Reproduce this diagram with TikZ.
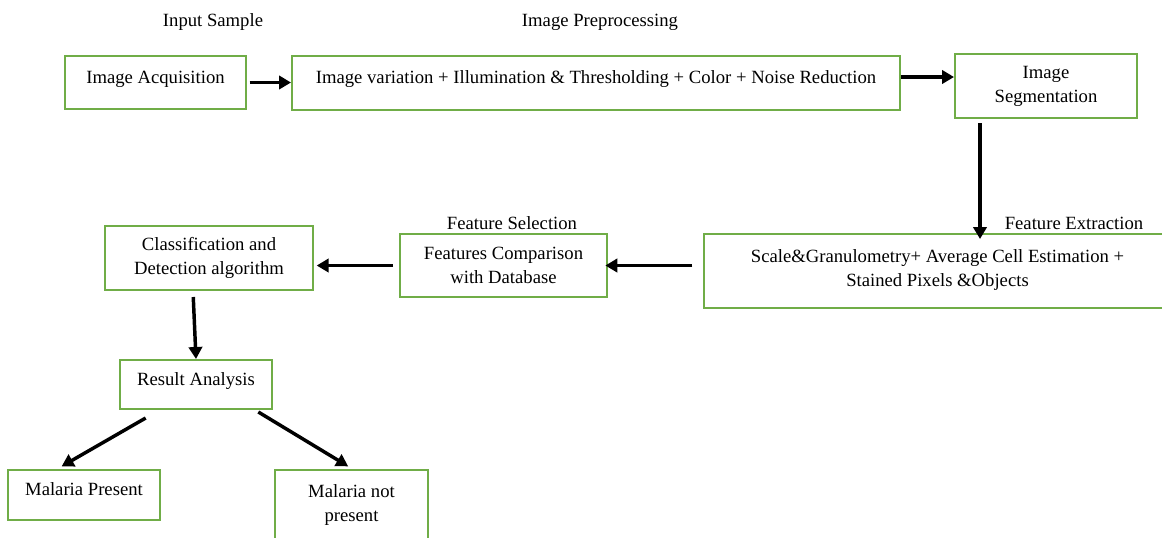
\documentclass[tikz,border=0pt]{standalone}
\usepackage{fontspec}
\setmainfont{Liberation Serif}
\usepackage{tikz}
\usetikzlibrary{arrows.meta}
\definecolor{boxgreen}{HTML}{70AD47}

\begin{document}
\begin{tikzpicture}[
  x=0.75pt, y=-0.75pt,
  font=\fontsize{14}{18}\selectfont,
  box/.style={draw=boxgreen, line width=1.5pt, align=center, inner sep=0pt},
  onebox/.style={box, text height=9.5pt, text depth=8.5pt},
  arr/.style={-{Triangle[length=9pt,width=10pt]}, line width=2.6pt, draw=black}
]
\useasboundingbox (0,0) rectangle (1162,537);
\clip (0,0) rectangle (1162,537);
% stage titles
\node (tin)  at (213,22)  {Input Sample};
\node (tpre) at (600,22)  {Image Preprocessing};
\node (tsel) at (512,223) {Feature Selection};
\node (text) at (1074,223) {Feature Extraction};
% boxes
\node[onebox, minimum width=135.75pt, minimum height=39.75pt] (acq) at (155.5,82.5) {Image Acquisition};
\node[onebox, minimum width=456pt, minimum height=40.5pt] (pre) at (596,83) {Image variation + Illumination \& Thresholding + Color + Noise Reduction};
\node[box, minimum width=136.5pt, minimum height=48pt] (seg) at (1046,86) {Image\\Segmentation};
\node[box, minimum width=350.25pt, minimum height=55.5pt] (ext) at (937.5,271) {Scale\&Granulometry+ Average Cell Estimation +\\Stained Pixels \&Objects\\[-13pt]\mbox{}};
\node[box, minimum width=155.25pt, minimum height=47.25pt] (cmp) at (503.5,265.5) {Features Comparison\\with Database};
\node[box, minimum width=156pt, minimum height=48pt] (cls) at (209,258) {Classification and\\Detection algorithm};
\node[onebox, minimum width=114pt, minimum height=36.75pt] (res) at (196,384.5) {Result Analysis};
\node[onebox, minimum width=114pt, minimum height=37.5pt] (yes) at (84,495) {Malaria Present};
\node[box, minimum width=114.75pt, minimum height=52.5pt] (no) at (351.5,505) {Malaria not\\present};
% connectors
\draw[arr, shorten <=2pt] (acq.east) -- (acq.east -| pre.west);
\draw[arr] ([yshift=4.5pt]pre.east) -- ([yshift=4.5pt]pre.east -| seg.west);
\draw[arr, shorten >=-4.5pt] ([xshift=19.5pt,yshift=-3pt]seg.south west) -- ([xshift=19.5pt]seg.south west |- ext.north);
\draw[arr, shorten <=8pt, shorten >=-2pt] (ext.west |- cmp.east) -- (cmp.east);
\draw[arr, shorten <=4.5pt, shorten >=2pt] (cmp.west) -- (cmp.west -| cls.east);
\draw[arr, shorten <=4.5pt] ([xshift=-12pt]cls.south) -- (res.north);
\draw[arr] ([xshift=20pt,yshift=-6pt]res.south west) -- ([xshift=41pt,yshift=2pt]yes.north west);
\draw[arr] ([xshift=-11pt,yshift=-1.5pt]res.south east) -- ([xshift=-2.5pt,yshift=2pt]no.north);
\end{tikzpicture}
\end{document}
